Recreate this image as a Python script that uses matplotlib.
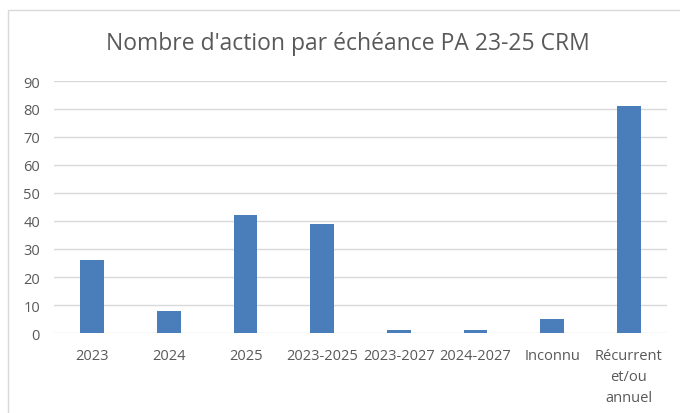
import matplotlib.pyplot as plt
import matplotlib.patches as mpatches
import numpy as np

categories = ["2023", "2024", "2025", "2023-2025", "2023-2027", "2024-2027",
              "Inconnu", "Récurrent\net/ou\nannuel"]
counts = [26, 8, 42, 39, 1, 1, 5, 81]

plt.rcParams['font.family'] = ['Open Sans', 'DejaVu Sans']
text_col = "#595959"

fig = plt.figure(figsize=(6.8, 4.14), dpi=100)
# chart border (partly cut by image edge)
fig.patches.append(mpatches.Rectangle((8 / 680, -0.1), 1.2, 1 - 11 / 414 + 0.1,
                                      transform=fig.transFigure, fill=False,
                                      edgecolor="#d9d9d9", linewidth=1))

ax = fig.add_axes([54 / 680, 1 - 334 / 414, 613 / 680, 252 / 414])
x = np.arange(len(categories))
ax.bar(x, counts, 0.31, color="#4a7ebb", zorder=3)
ax.set_xlim(-0.5, len(categories) - 0.5)
ax.set_ylim(0, 90)
ax.set_yticks(range(0, 91, 10))
ax.set_xticks(x, categories)
ax.grid(axis="y", color="#d9d9d9", linewidth=1, zorder=0)
for s in ax.spines.values():
    s.set_visible(False)
ax.tick_params(length=0, labelcolor=text_col, labelsize=10.5)
ax.tick_params(axis="y", pad=10)
ax.tick_params(axis="x", pad=11)
for lab in ax.get_xticklabels():
    lab.set_linespacing(1.55)

fig.text(348 / 680, 1 - 44 / 414, "Nombre d'action par échéance PA 23-25 CRM",
         ha="center", va="center", fontsize=16.5, color=text_col)

fig.savefig("out.png", dpi=100)
